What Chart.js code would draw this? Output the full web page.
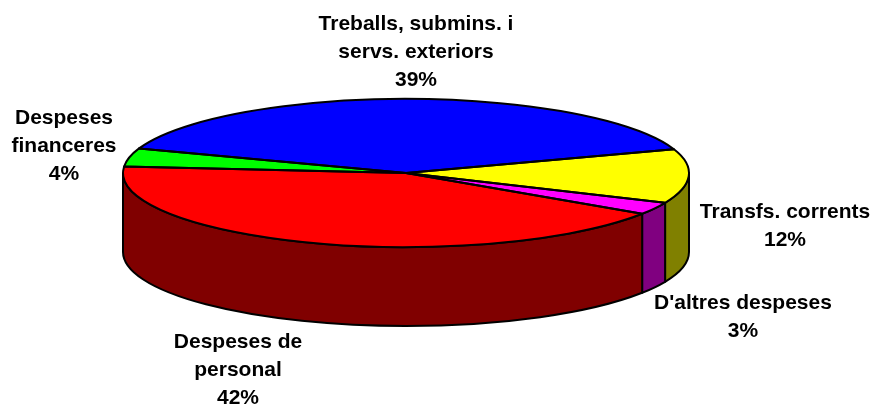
<!DOCTYPE html>
<html><head><meta charset="utf-8">
<script src="https://cdn.jsdelivr.net/npm/chart.js@4/dist/chart.umd.min.js"></script>
<style>html,body{margin:0;padding:0;background:#fff;overflow:hidden}#wrap{width:875px;height:408px;position:relative}</style>
</head><body><div id="wrap"><canvas id="c" width="875" height="408"></canvas></div>
<script>
// ---- data ----
const categories = ["Treballs, submins. i servs. exteriors", "Transfs. corrents", "D'altres despeses", "Despeses de personal", "Despeses financeres"];
const labelLines = [["Treballs, submins. i", "servs. exteriors"], ["Transfs. corrents"], ["D'altres despeses"], ["Despeses de", "personal"], ["Despeses", "financeres"]];
const values = [39.4, 11.8, 2.7, 42.1, 4.0];
const topColors = ["#0000FF", "#FFFF00", "#FF00FF", "#FF0000", "#00FF00"];
const sideColors = ["#000080", "#808000", "#800080", "#800000", "#008000"];

// ---- layout (not data) ----
const GEO = { cx: 406, cy: 173, rx: 283, ry: 74, depth: 79 };
const labelPos = [
  { x: 416, y: 30 }, { x: 785, y: 218 }, { x: 743, y: 309 }, { x: 238, y: 348 }, { x: 64, y: 124 }
];
const LINE_H = 28;
const FONT = 'bold 21px "Liberation Sans", Arial, sans-serif';

function wall(ctx, s, e, color) {
  const g = GEO;
  ctx.beginPath();
  ctx.ellipse(g.cx, g.cy, g.rx, g.ry, 0, s, e, false);
  ctx.lineTo(g.cx + g.rx * Math.cos(e), g.cy + g.depth + g.ry * Math.sin(e));
  ctx.ellipse(g.cx, g.cy + g.depth, g.rx, g.ry, 0, e, s, true);
  ctx.closePath();
  ctx.fillStyle = color;
  ctx.fill();
  ctx.lineWidth = 2;
  ctx.lineJoin = 'round';
  ctx.strokeStyle = '#000';
  ctx.stroke();
}

const pie3d = {
  id: 'pie3d',
  beforeDatasetsDraw(chart) {
    const ctx = chart.ctx;
    const meta = chart.getDatasetMeta(0);
    const TAU = Math.PI * 2;
    meta.data.forEach((arc, i) => {
      const span = arc.endAngle - arc.startAngle;
      let a = ((arc.startAngle % TAU) + TAU) % TAU;
      const b = a + span;
      [0, TAU].forEach(off => {
        const s = Math.max(a, off), e = Math.min(b, off + Math.PI);
        if (e > s) wall(ctx, s, e, sideColors[i]);
      });
    });
    const el = meta.data[0];
    ctx.save();
    ctx.translate(GEO.cx, GEO.cy);
    ctx.scale(GEO.rx / el.outerRadius, GEO.ry / el.outerRadius);
    ctx.translate(-el.x, -el.y);
  },
  afterDatasetsDraw(chart) {
    const ctx = chart.ctx;
    ctx.restore();
    const g = GEO;
    const meta = chart.getDatasetMeta(0);
    ctx.save();
    ctx.lineWidth = 2;
    ctx.lineJoin = 'round';
    ctx.strokeStyle = '#000';
    meta.data.forEach(arc => {
      ctx.beginPath();
      ctx.moveTo(g.cx, g.cy);
      ctx.ellipse(g.cx, g.cy, g.rx, g.ry, 0, arc.startAngle, arc.endAngle, false);
      ctx.closePath();
      ctx.stroke();
    });
    // labels
    const total = values.reduce((p, c) => p + c, 0);
    ctx.fillStyle = '#000';
    ctx.font = FONT;
    ctx.textAlign = 'center';
    ctx.textBaseline = 'alphabetic';
    labelLines.forEach((lines, i) => {
      const p = labelPos[i];
      const all = lines.concat([Math.round(values[i] / total * 100) + '%']);
      all.forEach((t, k) => ctx.fillText(t, p.x, p.y + k * LINE_H));
    });
    ctx.restore();
  }
};

new Chart(document.getElementById('c'), {
  type: 'pie',
  data: {
    labels: categories,
    datasets: [{
      data: values,
      backgroundColor: topColors,
      borderWidth: 0,
      clip: false
    }]
  },
  options: {
    responsive: false,
    devicePixelRatio: 1,
    animation: false,
    rotation: 289.4,
    layout: { padding: 0 },
    plugins: { legend: { display: false }, tooltip: { enabled: false } }
  },
  plugins: [pie3d]
});
</script>
</body></html>
